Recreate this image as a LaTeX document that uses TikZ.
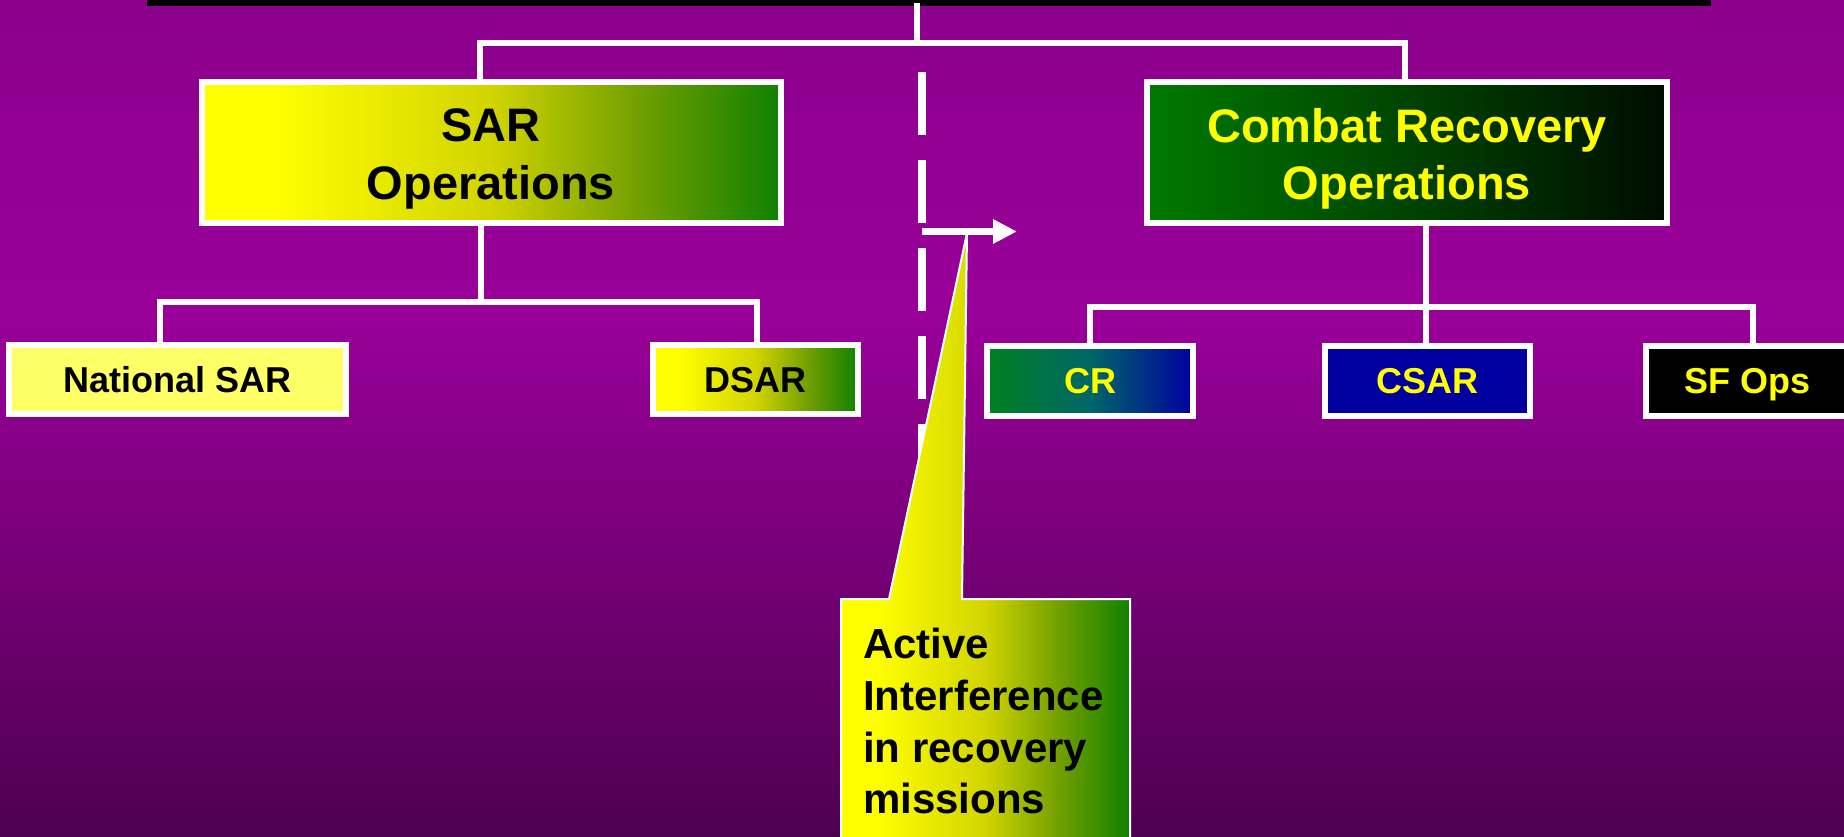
\documentclass[tikz,border=0pt]{standalone}
\usepackage{fontspec}
\setmainfont{Liberation Sans}
\usetikzlibrary{arrows.meta}

\definecolor{bgtop}{RGB}{140,0,140}
\definecolor{bgmid}{RGB}{153,0,153}
\definecolor{bgbot}{RGB}{78,0,80}
\definecolor{yg0}{RGB}{255,255,0}
\definecolor{yg50}{RGB}{210,212,0}
\definecolor{yg75}{RGB}{115,160,0}
\definecolor{yg100}{RGB}{16,128,0}
\definecolor{cb0}{RGB}{0,122,0}
\definecolor{cb100}{RGB}{0,12,0}
\definecolor{cr0}{RGB}{0,128,32}
\definecolor{cr50}{RGB}{0,102,104}
\definecolor{cr100}{RGB}{0,0,160}
\definecolor{natfill}{RGB}{255,255,102}
\definecolor{csarfill}{RGB}{0,0,160}
\definecolor{ytext}{RGB}{255,255,0}

\pgfdeclareverticalshading{bgshade}{100bp}{color(0bp)=(bgbot); color(25bp)=(bgbot); color(56bp)=(bgmid); color(75bp)=(bgtop); color(100bp)=(bgtop)}
\pgfdeclarehorizontalshading{ygshade}{100bp}{color(0bp)=(yg0); color(25bp)=(yg0); color(31bp)=(yg0); color(50bp)=(yg50); color(62.5bp)=(yg75); color(75bp)=(yg100); color(100bp)=(yg100)}
\pgfdeclarehorizontalshading{cbshade}{100bp}{color(0bp)=(cb0); color(25bp)=(cb0); color(75bp)=(cb100); color(100bp)=(cb100)}
\pgfdeclarehorizontalshading{crshade}{100bp}{color(0bp)=(cr0); color(25bp)=(cr0); color(50bp)=(cr50); color(75bp)=(cr100); color(100bp)=(cr100)}

\tikzset{
  bigbox/.style={draw=white, line width=6pt, inner sep=0pt, minimum height=141pt},
  smallbox/.style={draw=white, line width=6pt, inner sep=0pt, minimum height=69pt,
    minimum width=205pt, font=\bfseries\fontsize{36}{43}\selectfont,
    text height=25.8pt, text depth=0pt},
  bigtext/.style={font=\bfseries\fontsize{47}{56}\selectfont, inner sep=0pt, anchor=base},
  calltext/.style={font=\bfseries\fontsize{42}{50}\selectfont, inner sep=0pt, anchor=base west, text=black},
  conn/.style={draw=white, line width=5.5pt, line cap=rect},
}

\begin{document}
\begin{tikzpicture}[x=1pt, y=-1pt]
\useasboundingbox (0,0) rectangle (1844,837);
\clip (0,0) rectangle (1844,837);
\shade[shading=bgshade] (0,0) rectangle (1844,837);

% top bar
\node[fill=black, minimum width=1564pt, minimum height=6pt, inner sep=0pt] (bar) at (929,3) {};

% main boxes
\node[bigbox, shading=ygshade, minimum width=579pt] (sar) at (491.5,152.5) {};
\node[bigtext, text=black] (sarA) at (491,142) {SAR};
\node[bigtext, text=black] (sarB) at (491,200) {Operations};

\node[bigbox, shading=cbshade, minimum width=520pt] (cro) at (1407,152.5) {};
\node[bigtext, text=ytext] (croA) at (1407,143) {Combat Recovery};
\node[bigtext, text=ytext] (croB) at (1407,200) {Operations};

% sub boxes
\node[smallbox, fill=natfill, minimum width=337pt, text=black] (nat) at (177.5,379.5) {National SAR};
\node[smallbox, shading=ygshade, text=black] (dsar) at (755.5,379.5) {DSAR};
\node[smallbox, shading=crshade, minimum width=206pt, minimum height=70pt, text=ytext] (cr) at (1090,381) {CR};
\node[smallbox, fill=csarfill, minimum height=70pt, text=ytext] (csar) at (1427.5,381) {CSAR};
\node[smallbox, fill=black, minimum width=203pt, minimum height=70pt, text=ytext] (sf) at (1747.5,381) {SF Ops};

% connectors, top level
\coordinate (jTop) at (917,43);
\coordinate (jL) at (480,43);
\coordinate (jR) at (1405,43);
\draw[conn] (bar.south -| jTop) -- (jTop);
\draw[conn] (jL) -- (jR);
\draw[conn] (jL) -- (jL |- sar.north);
\draw[conn] (jR) -- (jR |- cro.north);

% connectors, SAR side
\coordinate (jS) at (481,302);
\coordinate (jNat) at (160,302);
\coordinate (jD) at (757,302);
\draw[conn] (jS |- sar.south) -- (jS);
\draw[conn] (jNat) -- (jD);
\draw[conn] (jNat) -- (jNat |- nat.north);
\draw[conn] (jD) -- (jD |- dsar.north);

% connectors, combat side
\coordinate (jC) at (1426,307);
\coordinate (jCR) at (1090,307);
\coordinate (jSF) at (1753,307);
\draw[conn] (jC |- cro.south) -- (jC);
\draw[conn] (jCR) -- (jSF);
\draw[conn] (jCR) -- (jCR |- cr.north);
\draw[conn] (jC) -- (jC |- csar.north);
\draw[conn] (jSF) -- (jSF |- sf.north);

% dashed divider
\coordinate (dashTop) at (922,72);
\coordinate (dashBot) at (922,487);
\draw[white, line width=8pt, dash pattern=on 63pt off 25pt] (dashTop) -- (dashBot);

% callout
\path[shading=ygshade, draw=white, line width=2pt]
  (841,845) -- (841,599) -- (889,599) -- (967,233) -- (962,599) -- (1130,599) -- (1130,845) -- cycle;
\node[calltext] (c1) at (863,658) {Active};
\node[calltext] (c2) at (863,710) {Interference};
\node[calltext] (c3) at (863,762) {in recovery};
\node[calltext] (c4) at (863,813) {missions};

% arrow
\coordinate (arrS) at (922,231.5);
\coordinate (arrE) at (1017,231.5);
\draw[white, line width=7pt, -{Triangle[length=24pt,width=23pt]}] (arrS) -- (arrE);
\end{tikzpicture}
\end{document}
